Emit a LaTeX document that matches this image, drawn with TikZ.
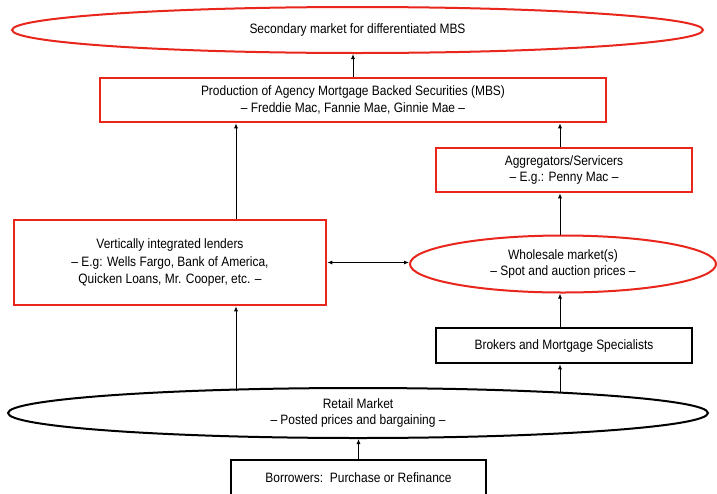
\documentclass[tikz,border=0pt]{standalone}
\usepackage{fontspec}
\setmainfont{Liberation Sans}[FakeStretch=0.88]
\usetikzlibrary{shapes.geometric,arrows.meta}
\definecolor{boxred}{RGB}{232,38,28}
\tikzset{
  txt/.style={font=\fontsize{13.6}{16.5}\selectfont, align=center, inner sep=0pt},
  redbox/.style={txt, draw=boxred, line width=2.6pt, rectangle},
  blackbox/.style={txt, draw=black, line width=2.6pt, rectangle},
  redell/.style={txt, draw=boxred, line width=2pt, ellipse},
  blackell/.style={txt, draw=black, line width=2pt, ellipse},
  arr/.style={-{Latex[length=5pt,width=4pt]}, line width=0.8pt},
  darr/.style={{Latex[length=5pt,width=4pt]}-{Latex[length=5pt,width=4pt]}, line width=0.8pt}
}
\begin{document}
\begin{tikzpicture}[x=1pt,y=-1pt]
\useasboundingbox[fill=white] (0,0) rectangle (717,493);
\node[redell, minimum width=691pt, minimum height=46pt] (sec) at (357.5,30) {Secondary market for differentiated MBS};
\node[redbox, minimum width=506pt, minimum height=44pt] (prod) at (353,100) {Production of Agency Mortgage Backed Securities (MBS)\\ -- Freddie Mac, Fannie Mae, Ginnie Mae --};
\node[redbox, minimum width=256pt, minimum height=44pt] (agg) at (564,170) {Aggregators/Servicers\\ -- E.g.: Penny Mac --};
\node[redbox, minimum width=312pt, minimum height=85pt, font=\fontsize{13.6}{17.5}\selectfont] (vil) at (170,262.5) {Vertically integrated lenders\\ -- E.g: Wells Fargo, Bank of America,\\ Quicken Loans, Mr. Cooper, etc. --};
\node[redell, minimum width=306pt, minimum height=57pt] (whl) at (563,264) {Wholesale market(s)\\ -- Spot and auction prices --};
\node[blackbox, minimum width=256pt, minimum height=35pt] (brk) at (564,345.5) {Brokers and Mortgage Specialists};
\node[blackell, minimum width=700pt, minimum height=50pt] (ret) at (358,413) {Retail Market\\ -- Posted prices and bargaining --};
\node[blackbox, minimum width=255pt, minimum height=36pt] (bor) at (358.5,478) {Borrowers:\ \ Purchase or Refinance};

\draw[arr] (prod.north) -- (prod.north |- sec.south);
\draw[arr] ([xshift=66pt]vil.north) -- ([xshift=66pt]vil.north |- prod.south);
\draw[arr] ([xshift=-4pt]agg.north) -- ([xshift=-4pt]agg.north |- prod.south);
\draw[arr] ([xshift=-3pt]whl.north) -- ([xshift=-4pt]agg.south);
\draw[darr] (vil.east) -- (vil.east -| whl.west);
\draw[arr] ([xshift=-4pt]brk.north) -- ([xshift=-3pt]whl.south);
\draw[arr] ([xshift=-4pt]brk.south |- ret.5.8) -- ([xshift=-4pt]brk.south);
\draw[arr] ([xshift=66pt]vil.south |- ret.173.5) -- ([xshift=66pt]vil.south);
\draw[arr] (bor.north) -- (bor.north |- ret.south);
\end{tikzpicture}
\end{document}
